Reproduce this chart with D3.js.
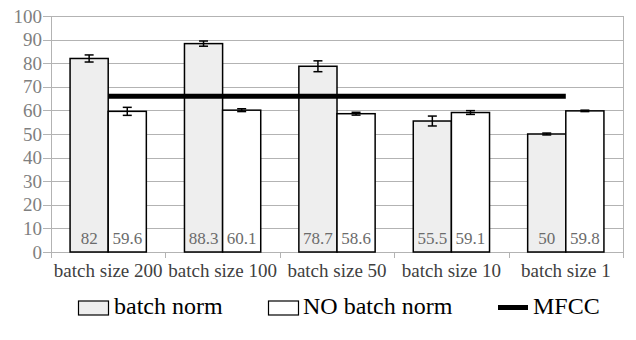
<!DOCTYPE html>
<html>
<head>
<meta charset="utf-8">
<script src="https://cdn.jsdelivr.net/npm/d3@7"></script>
</head>
<body style="margin:0;background:#fff">
<div id="chart"></div>
<script>
// chart data
var categories = ["batch size 200", "batch size 100", "batch size 50", "batch size 10", "batch size 1"];
var batchNorm = [82, 88.3, 78.7, 55.5, 50];
var batchNormErr = [1.5, 1.1, 2.3, 2.1, 0.4];
var noBatchNorm = [59.6, 60.1, 58.6, 59.1, 59.8];
var noBatchNormErr = [1.7, 0.6, 0.6, 0.8, 0.3];
var mfcc = 66;
var yTicks = [0, 10, 20, 30, 40, 50, 60, 70, 80, 90, 100];

var FONT = "Liberation Serif, serif";
var width = 636, height = 340;
var margin = {top: 16, right: 13, bottom: 88, left: 51};

var svg = d3.select("#chart").append("svg")
    .attr("width", width)
    .attr("height", height)
    .attr("font-family", FONT)
    .style("display", "block");

var x = d3.scaleBand()
    .domain(categories)
    .range([margin.left, width - margin.right])
    .paddingInner(0)
    .paddingOuter(0);

var y = d3.scaleLinear()
    .domain([0, 100])
    .range([height - margin.bottom, margin.top]);

// Excel-style gap width of 50%
var groupW = x.bandwidth() / 1.5;
var x1 = d3.scaleBand()
    .domain(["bn", "nobn"])
    .range([0, groupW]);

// grid lines
svg.append("g")
  .selectAll("line")
  .data(yTicks)
  .join("line")
    .attr("x1", margin.left - 8)
    .attr("x2", width - margin.right)
    .attr("y1", function(d) { return Math.round(y(d)) + 0.5; })
    .attr("y2", function(d) { return Math.round(y(d)) + 0.5; })
    .attr("stroke", "#b3b3b3")
    .attr("stroke-width", 1);

// y axis line + right border
[margin.left, width - margin.right].forEach(function(xx) {
  svg.append("line")
    .attr("x1", xx + 0.5).attr("x2", xx + 0.5)
    .attr("y1", y(100)).attr("y2", y(0))
    .attr("stroke", "#b3b3b3");
});

// x ticks at category boundaries
var bounds = categories.map(function(c) { return x(c); }).concat([width - margin.right]);
svg.append("g")
  .selectAll("line")
  .data(bounds)
  .join("line")
    .attr("x1", function(d) { return Math.round(d) + 0.5; })
    .attr("x2", function(d) { return Math.round(d) + 0.5; })
    .attr("y1", y(0))
    .attr("y2", y(0) + 6)
    .attr("stroke", "#b3b3b3");

// y tick labels
svg.append("g")
  .selectAll("text")
  .data(yTicks)
  .join("text")
    .attr("x", margin.left - 9)
    .attr("y", function(d) { return y(d); })
    .attr("dy", "0.35em")
    .attr("text-anchor", "end")
    .attr("fill", "#7f7f7f")
    .attr("font-size", 19)
    .text(function(d) { return d; });

// category labels
svg.append("g")
  .selectAll("text")
  .data(categories)
  .join("text")
    .attr("x", function(d) { return x(d) + x.bandwidth() / 2; })
    .attr("y", y(0) + 25)
    .attr("text-anchor", "middle")
    .attr("fill", "#404040")
    .attr("font-size", 19)
    .text(function(d) { return d; });

// bars
var rows = categories.map(function(c, i) {
  return [
    {cat: c, key: "bn", v: batchNorm[i], e: batchNormErr[i], fill: "#eeeeee"},
    {cat: c, key: "nobn", v: noBatchNorm[i], e: noBatchNormErr[i], fill: "#ffffff"}
  ];
});
var flat = [].concat.apply([], rows);

function barX(d) { return x(d.cat) + (x.bandwidth() - groupW) / 2 + x1(d.key); }

svg.append("g")
  .selectAll("rect")
  .data(flat)
  .join("rect")
    .attr("x", barX)
    .attr("y", function(d) { return y(d.v); })
    .attr("width", x1.bandwidth())
    .attr("height", function(d) { return y(0) - y(d.v); })
    .attr("fill", function(d) { return d.fill; })
    .attr("stroke", "#000")
    .attr("stroke-width", 1.5);

// error bars
var eb = svg.append("g").attr("stroke", "#000").attr("stroke-width", 1.5);
flat.forEach(function(d) {
  var cx = barX(d) + x1.bandwidth() / 2;
  eb.append("line").attr("x1", cx).attr("x2", cx)
    .attr("y1", y(d.v + d.e)).attr("y2", y(d.v - d.e));
  [d.v + d.e, d.v - d.e].forEach(function(v) {
    eb.append("line").attr("x1", cx - 4.5).attr("x2", cx + 4.5)
      .attr("y1", y(v)).attr("y2", y(v));
  });
});

// value labels
svg.append("g")
  .selectAll("text")
  .data(flat)
  .join("text")
    .attr("x", function(d) { return barX(d) + x1.bandwidth() / 2; })
    .attr("y", y(0) - 8.5)
    .attr("text-anchor", "middle")
    .attr("fill", "#6b6b6b")
    .attr("font-size", 17)
    .text(function(d) { return d.v; });

// MFCC line
svg.append("line")
  .attr("x1", x(categories[0]) + x.bandwidth() / 2)
  .attr("x2", x(categories[categories.length - 1]) + x.bandwidth() / 2)
  .attr("y1", y(mfcc))
  .attr("y2", y(mfcc))
  .attr("stroke", "#000")
  .attr("stroke-width", 5);

// legend
var leg = svg.append("g");
leg.append("rect").attr("x", 78.5).attr("y", 301).attr("width", 30).attr("height", 14)
  .attr("fill", "#eeeeee").attr("stroke", "#000").attr("stroke-width", 1.2);
leg.append("rect").attr("x", 268.5).attr("y", 301).attr("width", 30).attr("height", 14)
  .attr("fill", "#ffffff").attr("stroke", "#000").attr("stroke-width", 1.2);
leg.append("line").attr("x1", 498).attr("x2", 528).attr("y1", 307.5).attr("y2", 307.5)
  .attr("stroke", "#000").attr("stroke-width", 5);
leg.selectAll("text")
  .data([[114, "batch norm"], [303, "NO batch norm"], [533, "MFCC"]])
  .join("text")
    .attr("x", function(d) { return d[0]; })
    .attr("y", 314)
    .attr("fill", "#000")
    .attr("font-size", 24)
    .text(function(d) { return d[1]; });
</script>
</body>
</html>
